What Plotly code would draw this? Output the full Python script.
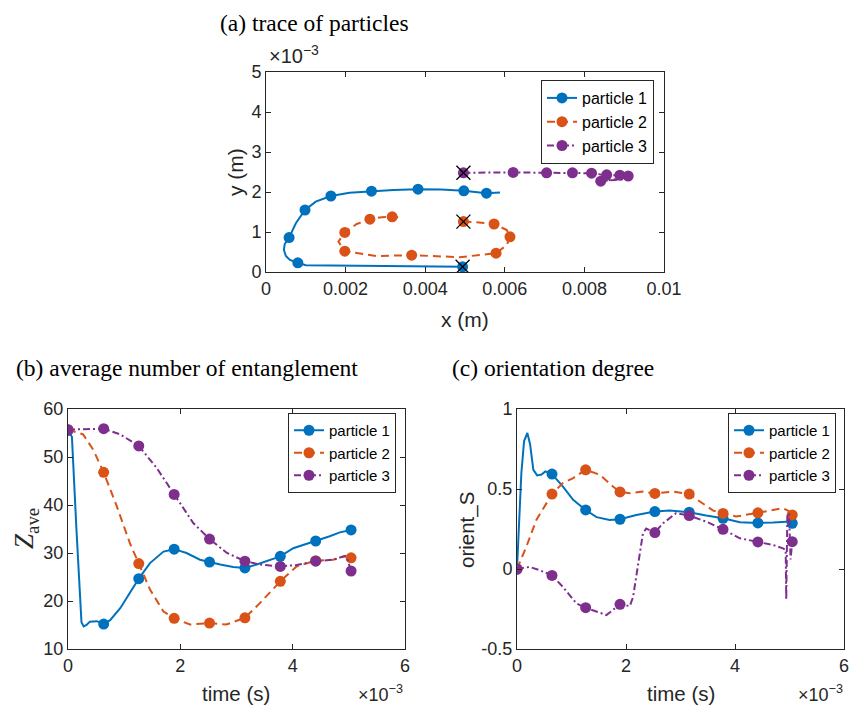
import plotly.graph_objects as go

W, H = 852, 708
BLUE, ORANGE, PURPLE = "#0072BD", "#D95319", "#7E2F8E"
AX = "#262626"
SANS = "Liberation Sans, Arial, Helvetica, sans-serif"
SERIF = "Liberation Serif, Times New Roman, serif"

names = ["particle 1", "particle 2", "particle 3"]

# ---------------- (a) trace of particles (values in mm) ----------------
p1_x = [4.94, 4.0, 3.0, 2.0, 1.4, 1.0, 0.8, 0.6, 0.5, 0.45, 0.47, 0.58, 0.75, 0.98, 1.25, 1.63, 2.1, 2.65, 3.2, 3.82, 4.4, 4.97, 5.3, 5.54, 5.88]
p1_y = [0.13, 0.14, 0.15, 0.15, 0.16, 0.17, 0.23, 0.3, 0.4, 0.55, 0.7, 0.86, 1.22, 1.55, 1.76, 1.9, 1.98, 2.02, 2.05, 2.07, 2.06, 2.03, 2.0, 1.97, 1.99]
p1_mx = [4.94, 0.8, 0.58, 0.98, 1.63, 2.65, 3.82, 4.97, 5.54]
p1_my = [0.13, 0.23, 0.86, 1.55, 1.9, 2.02, 2.07, 2.03, 1.97]

p2_x = [4.96, 5.35, 5.73, 6.05, 6.13, 6.05, 5.78, 4.87, 3.66, 2.78, 1.98, 1.82, 1.98, 2.28, 2.61, 2.91, 3.17, 3.32]
p2_y = [1.26, 1.24, 1.2, 1.05, 0.88, 0.675, 0.47, 0.37, 0.42, 0.40, 0.52, 0.76, 0.99, 1.2, 1.32, 1.37, 1.38, 1.37]
p2_mx = [4.96, 5.73, 6.13, 5.78, 3.66, 1.98, 1.98, 2.61, 3.17]
p2_my = [1.26, 1.2, 0.88, 0.47, 0.42, 0.52, 0.99, 1.32, 1.38]

p3_x = [4.96, 5.5, 6.21, 7.05, 7.70, 8.18, 8.4, 8.56, 8.89, 9.10, 9.19, 8.41, 9.12]
p3_y = [2.48, 2.49, 2.49, 2.48, 2.48, 2.47, 2.44, 2.43, 2.42, 2.40, 2.37, 2.27, 2.33]
p3_mx = [4.96, 6.21, 7.05, 7.70, 8.18, 8.56, 8.89, 9.10, 8.41]
p3_my = [2.48, 2.49, 2.48, 2.48, 2.47, 2.43, 2.42, 2.40, 2.27]

# ---------------- (b) average number of entanglement (t in ms) ----------------
z1_t = [0, 0.07, 0.15, 0.24, 0.28, 0.33, 0.39, 0.51, 0.635, 0.75, 0.93, 1.10, 1.26, 1.46, 1.70, 1.89, 2.11, 2.35, 2.52, 2.71, 2.94, 3.15, 3.36, 3.54, 3.78, 4.01, 4.41, 4.66, 4.84, 5.04]
z1_v = [55.5, 54.2, 35.0, 15.6, 14.7, 15.0, 15.7, 15.8, 15.2, 16.0, 18.5, 21.7, 24.65, 27.9, 30.3, 30.8, 30.0, 28.6, 28.1, 27.6, 27.1, 26.9, 27.6, 28.3, 29.3, 31.0, 32.5, 33.5, 34.3, 34.8]
z2_t = [0, 0.27, 0.45, 0.635, 0.87, 1.10, 1.26, 1.46, 1.70, 1.89, 2.17, 2.52, 2.82, 3.15, 3.42, 3.78, 4.07, 4.41, 4.72, 4.93, 5.04]
z2_v = [55.7, 54.7, 51.5, 46.8, 39.7, 32.1, 27.8, 22.4, 17.8, 16.4, 15.1, 15.4, 15.1, 16.5, 19.6, 24.1, 27.2, 28.4, 28.6, 29.3, 29.0]
z3_t = [0, 0.33, 0.635, 0.93, 1.26, 1.58, 1.89, 2.23, 2.52, 2.83, 3.15, 3.42, 3.78, 4.07, 4.41, 4.72, 4.93, 4.98, 5.04]
z3_v = [55.7, 55.8, 55.9, 54.7, 52.3, 47.7, 42.2, 36.25, 32.9, 30.0, 28.3, 27.6, 27.2, 27.5, 28.3, 28.6, 29.4, 28.5, 26.25]
mark_t = [0, 0.635, 1.26, 1.89, 2.52, 3.15, 3.78, 4.41, 5.04]
z1_m = [55.5, 15.2, 24.65, 30.8, 28.1, 26.9, 29.3, 32.5, 34.8]
z2_m = [55.7, 46.8, 27.8, 16.4, 15.4, 16.5, 24.1, 28.4, 29.0]
z3_m = [55.7, 55.9, 52.3, 42.2, 32.9, 28.3, 27.2, 28.3, 26.25]

# ---------------- (c) orientation degree (t in ms) ----------------
s1_t = [0, 0.03, 0.08, 0.13, 0.19, 0.24, 0.30, 0.37, 0.45, 0.52, 0.58, 0.642, 0.84, 1.03, 1.26, 1.46, 1.70, 1.89, 2.19, 2.53, 2.80, 3.16, 3.47, 3.78, 4.09, 4.42, 4.70, 4.94, 5.05]
s1_v = [0, 0.2, 0.6, 0.8, 0.85, 0.78, 0.62, 0.585, 0.59, 0.61, 0.6, 0.593, 0.516, 0.432, 0.369, 0.324, 0.307, 0.311, 0.338, 0.359, 0.365, 0.355, 0.334, 0.317, 0.292, 0.288, 0.29, 0.296, 0.286]
s2_t = [0, 0.17, 0.355, 0.642, 0.84, 1.03, 1.26, 1.52, 1.76, 1.89, 2.07, 2.31, 2.53, 2.86, 3.16, 3.41, 3.60, 3.78, 4.02, 4.42, 4.70, 4.88, 4.97, 5.05]
s2_v = [0, 0.138, 0.307, 0.468, 0.537, 0.568, 0.62, 0.589, 0.516, 0.482, 0.474, 0.484, 0.472, 0.484, 0.468, 0.411, 0.365, 0.347, 0.328, 0.351, 0.369, 0.38, 0.365, 0.338]
s3_t = [0, 0.23, 0.42, 0.642, 0.84, 1.09, 1.26, 1.46, 1.64, 1.89, 2.07, 2.13, 2.22, 2.31, 2.37, 2.53, 2.68, 2.92, 3.16, 3.47, 3.78, 4.09, 4.42, 4.70, 4.88, 4.93, 4.94, 4.96, 4.99, 5.02, 5.05]
s3_v = [0, 0.013, -0.008, -0.04, -0.111, -0.215, -0.242, -0.267, -0.288, -0.221, -0.232, -0.175, 0.013, 0.221, 0.253, 0.228, 0.286, 0.349, 0.334, 0.296, 0.248, 0.192, 0.169, 0.150, 0.129, 0.12, -0.19, 0.33, 0.35, 0.06, 0.171]
smark_t = [0, 0.642, 1.26, 1.89, 2.53, 3.16, 3.78, 4.42, 5.05]
s1_m = [0, 0.593, 0.369, 0.311, 0.359, 0.355, 0.317, 0.288, 0.286]
s2_m = [0, 0.468, 0.62, 0.482, 0.472, 0.468, 0.347, 0.351, 0.338]
s3_m = [0, -0.04, -0.242, -0.221, 0.228, 0.334, 0.248, 0.169, 0.171]

# axis tick labels
xa_ticks = [0, 0.002, 0.004, 0.006, 0.008, 0.01]
xa_text = ["0", "0.002", "0.004", "0.006", "0.008", "0.01"]
ya_ticks = [0, 0.001, 0.002, 0.003, 0.004, 0.005]
ya_text = ["0", "1", "2", "3", "4", "5"]
t_ticks = [0, 0.002, 0.004, 0.006]
t_text = ["0", "2", "4", "6"]
zb_ticks = [10, 20, 30, 40, 50, 60]
sc_ticks = [-0.5, 0, 0.5, 1]
sc_text = ["-0.5", "0", "0.5", "1"]

mm = lambda a: [v * 1e-3 for v in a]

colors = [BLUE, ORANGE, PURPLE]
dashes = ["solid", "8px,5px", "7px,3px,2px,3px"]

fig = go.Figure()


def add_series(x, y, mx, my, i, xa, ya, leg):
    fig.add_trace(go.Scatter(x=x, y=y, mode="lines", xaxis=xa, yaxis=ya,
                             line=dict(color=colors[i], width=2, dash=dashes[i]),
                             showlegend=False, hoverinfo="skip"))
    fig.add_trace(go.Scatter(x=mx, y=my, mode="markers", xaxis=xa, yaxis=ya,
                             marker=dict(color=colors[i], size=11),
                             showlegend=False, hoverinfo="skip"))
    fig.add_trace(go.Scatter(x=[None], y=[None], mode="lines+markers", xaxis=xa, yaxis=ya,
                             name=names[i], legend=leg,
                             line=dict(color=colors[i], width=2, dash=dashes[i]),
                             marker=dict(color=colors[i], size=11)))


# (a)
traces_a = [(p1_x, p1_y, p1_mx, p1_my), (p2_x, p2_y, p2_mx, p2_my), (p3_x, p3_y, p3_mx, p3_my)]
for i, (x, y, mx, my) in enumerate(traces_a):
    add_series(mm(x), mm(y), mm(mx), mm(my), i, "x", "y", "legend")
fig.add_trace(go.Scatter(x=mm([p1_x[0], p2_x[0], p3_x[0]]), y=mm([p1_y[0], p2_y[0], p3_y[0]]),
                         mode="markers", xaxis="x", yaxis="y", showlegend=False, hoverinfo="skip",
                         marker=dict(symbol="x-thin", size=14, line=dict(color="black", width=1.3))))

# (b)
for i, (t, v, m) in enumerate([(z1_t, z1_v, z1_m), (z2_t, z2_v, z2_m), (z3_t, z3_v, z3_m)]):
    add_series(mm(t), v, mm(mark_t), m, i, "x2", "y2", "legend2")

# (c)
for i, (t, v, m) in enumerate([(s1_t, s1_v, s1_m), (s2_t, s2_v, s2_m), (s3_t, s3_v, s3_m)]):
    add_series(mm(t), v, mm(smark_t), m, i, "x3", "y3", "legend3")


def px_x(p):
    return p / W


def px_y(p):
    return 1 - p / H


axis_common = dict(showline=True, linecolor=AX, linewidth=1, mirror="ticks", ticks="inside",
                   ticklen=5, tickcolor=AX, tickwidth=1, showgrid=False, zeroline=False,
                   tickfont=dict(family=SANS, size=18, color=AX), automargin=False, fixedrange=True)

leg_common = dict(bgcolor="white", bordercolor=AX, borderwidth=1, xanchor="right", yanchor="top",
                  tracegroupgap=0, itemclick=False)

fig.update_layout(
    width=W, height=H, margin=dict(l=0, r=0, t=0, b=0),
    paper_bgcolor="white", plot_bgcolor="white", showlegend=True,
    xaxis=dict(axis_common, domain=[px_x(266), px_x(664)], range=[0, 0.01],
               tickmode="array", tickvals=xa_ticks, ticktext=xa_text, anchor="y"),
    yaxis=dict(axis_common, domain=[px_y(272), px_y(72)], range=[0, 0.005],
               tickmode="array", tickvals=ya_ticks, ticktext=ya_text, anchor="x"),
    xaxis2=dict(axis_common, domain=[px_x(68), px_x(405)], range=[0, 0.006],
                tickmode="array", tickvals=t_ticks, ticktext=t_text, anchor="y2"),
    yaxis2=dict(axis_common, domain=[px_y(649), px_y(409)], range=[10, 60],
                tickmode="array", tickvals=zb_ticks, anchor="x2"),
    xaxis3=dict(axis_common, domain=[px_x(517), px_x(844)], range=[0, 0.006],
                tickmode="array", tickvals=t_ticks, ticktext=t_text, anchor="y3"),
    yaxis3=dict(axis_common, domain=[px_y(649), px_y(409)], range=[-0.5, 1],
                tickmode="array", tickvals=sc_ticks, ticktext=sc_text, anchor="x3"),
    legend=dict(leg_common, x=px_x(654), y=px_y(80), font=dict(family=SANS, size=16, color="black")),
    legend2=dict(leg_common, x=px_x(396), y=px_y(413), font=dict(family=SANS, size=15, color="black")),
    legend3=dict(leg_common, x=px_x(836), y=px_y(413), font=dict(family=SANS, size=15, color="black")),
)

ann = []


def text(x, y, s, font, size, xanchor="center", yanchor="middle", angle=0, color="black"):
    ann.append(dict(x=px_x(x), y=px_y(y), xref="paper", yref="paper", text=s, showarrow=False,
                    xanchor=xanchor, yanchor=yanchor, textangle=angle,
                    font=dict(family=font, size=size, color=color)))


# panel titles
text(314, 23, "(a) trace of particles", SERIF, 23.5)
text(186.5, 368, "(b) average number of entanglement", SERIF, 23.5)
text(552.5, 368, "(c) orientation degree", SERIF, 23.5)
# axis titles
text(465, 319, "x (m)", SANS, 21, color=AX)
text(235, 172, "y (m)", SANS, 21, angle=-90, color=AX)
text(236.5, 693, "time (s)", SANS, 20.5, color=AX)
text(681, 693, "time (s)", SANS, 20.5, color=AX)
text(26, 529, "<i>Z</i><sub>ave</sub>", SERIF, 27, angle=-90, color=AX)
text(467, 530, "orient_S", SANS, 20.5, angle=-90, color=AX)
# exponent labels
text(267, 69, "×10<sup>−3</sup>", SANS, 20, xanchor="left", yanchor="bottom", color=AX)
text(356, 707, "×10<sup>−3</sup>", SANS, 18, xanchor="left", yanchor="bottom", color=AX)
text(796, 707, "×10<sup>−3</sup>", SANS, 18, xanchor="left", yanchor="bottom", color=AX)

fig.update_layout(annotations=ann)
fig.write_html("out.html", config={"displayModeBar": False},
               post_script="document.body.style.margin='0';document.body.style.overflow='hidden';")
